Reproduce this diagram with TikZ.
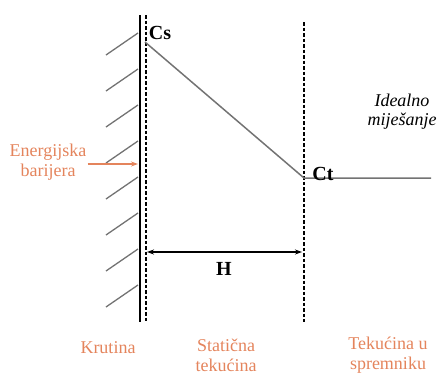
\documentclass[tikz,border=0pt]{standalone}
\usepackage{fontspec}
\setmainfont{Liberation Serif}
\usetikzlibrary{positioning,arrows.meta}
\usepackage{xcolor}
\definecolor{zoneorange}{RGB}{228,132,92}
\definecolor{linegray}{RGB}{115,115,115}

\begin{document}
\begin{tikzpicture}[
    x=1pt,y=-1pt,
    zone/.style={text=zoneorange,font=\fontsize{18}{20}\selectfont,align=center,inner sep=1pt},
    conc/.style={font=\bfseries\fontsize{20}{22}\selectfont,inner sep=1pt},
    boundary/.style={line width=2.4pt,dash pattern=on 3.5pt off 2pt},
    hatch/.style={linegray,line width=1.3pt},
    arr/.style={-{Stealth[length=7pt,width=5pt]},line width=1.3pt}
  ]
    \useasboundingbox (0,0) rectangle (440,376);

    % wall, film and bulk boundaries
    \coordinate (walltop) at (140,15);
    \coordinate (wallbot) at (140,322);
    \coordinate (filmtop) at (146,15);
    \coordinate (filmbot) at (146,322);
    \coordinate (bulktop) at (304,22);
    \coordinate (bulkbot) at (304,322);
    \draw[line width=1.8pt] (walltop) -- (wallbot);
    \draw[boundary] (filmtop) -- (filmbot);
    \draw[boundary] (bulktop) -- (bulkbot);
    \foreach \y in {33,69,...,285}
      \draw[hatch] (138,\y) -- ++(-32,22);

    % concentration profile
    \coordinate (cs) at (145,42);
    \coordinate (ct) at (304,178);
    \coordinate (tank) at (431,178);
    \draw[linegray,line width=1.5pt] (cs) -- (ct) -- (tank);
    \node[conc] (cslabel) at (160,33) {Cs};
    \node[conc] (ctlabel) at (323,174) {Ct};
    \node[align=center,font=\itshape\fontsize{18}{19}\selectfont] (mixing) at (402,112) {Idealno\\mije\v{s}anje};

    % film thickness
    \coordinate (hleft) at (147,252);
    \coordinate (hright) at (302,252);
    \draw[{Stealth[length=7pt,width=5pt]}-{Stealth[length=7pt,width=5pt]},line width=1.3pt] (hleft) -- (hright);
    \node[conc] (hlabel) at (224,269) {H};

    % energy barrier
    \node[zone] (barrier) at (48,162) {Energijska\\barijera};
    \coordinate (barrierhit) at (138,164);
    \draw[arr,zoneorange] (barrier.east |- barrierhit) -- (barrierhit);

    % zones
    \node[zone] (solid) at (108,348) {Krutina};
    \node[zone] (film) at (226,355) {Stati\v{c}na\\teku\'{c}ina};
    \node[zone] (bulk) at (388,355) {Teku\'{c}ina u\\spremniku};
\end{tikzpicture}
\end{document}
